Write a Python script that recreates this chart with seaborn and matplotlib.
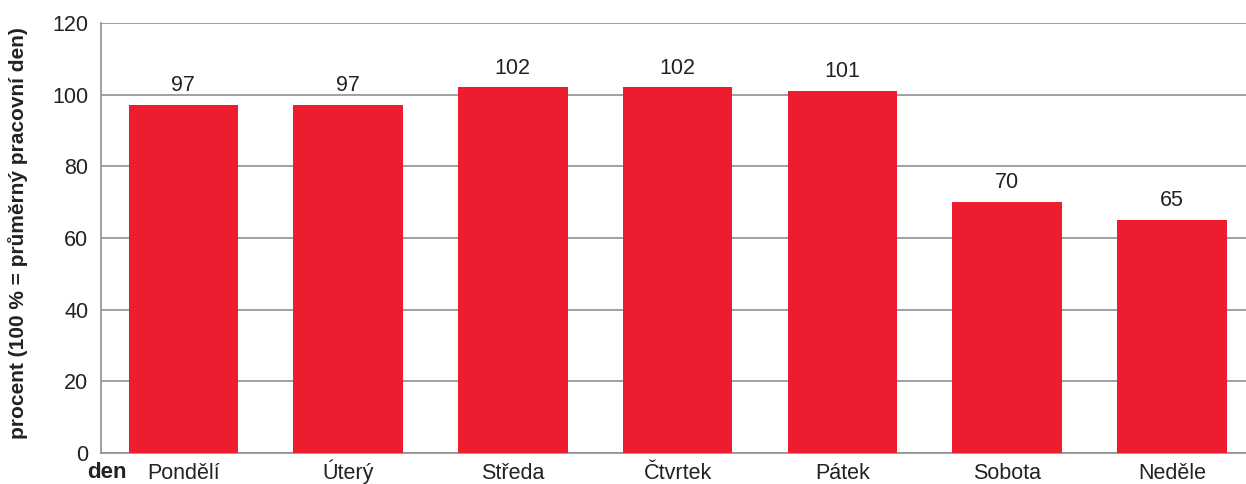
import matplotlib
matplotlib.use("Agg")
import matplotlib.pyplot as plt
import seaborn as sns
import pandas as pd

days = ["Pondělí", "Úterý", "Středa", "Čtvrtek", "Pátek", "Sobota", "Neděle"]
values = [97, 97, 102, 102, 101, 70, 65]
yticks = [0, 20, 40, 60, 80, 100, 120]

sns.set_style("white")
plt.rcParams['font.family'] = ['Liberation Sans', 'DejaVu Sans']

df = pd.DataFrame({"den": days, "hodnota": values})

fig = plt.figure(figsize=(12.46, 4.84), dpi=100)
ax = fig.add_axes([0.081, 0.064, 0.919, 0.8885])

sns.barplot(data=df, x="den", y="hodnota", color="#ED1C2E", width=0.665,
            saturation=1, ax=ax, zorder=3)
for p in ax.patches:
    p.set_edgecolor("none")

ax.set_ylim(0, 120)
ax.set_xlim(-0.5, 6.45)
ax.set_yticks(yticks)
ax.set_yticklabels([str(t) for t in yticks], fontsize=15.5, color="#222222")
ax.tick_params(axis='x', labelsize=15.5, length=0, pad=19, labelcolor="#222222")
ax.tick_params(axis='y', length=0, pad=9)
for lab in ax.get_xticklabels():
    lab.set_verticalalignment("baseline")
ax.yaxis.grid(True, color="#8C9191", linewidth=1.2, zorder=0)
ax.set_axisbelow(True)
for s in ["top", "right"]:
    ax.spines[s].set_visible(False)
ax.spines["left"].set_color("#8C9191")
ax.spines["left"].set_linewidth(1.2)
ax.spines["bottom"].set_color("#8C9191")
ax.spines["bottom"].set_linewidth(1.2)

for i, v in enumerate(values):
    ax.text(i, v + 2.5, str(v), ha="center", va="bottom", fontsize=15.5, color="#222222")

ax.set_xlabel("")
ax.set_ylabel("")
fig.text(18 / 1246, 1 - 233 / 484, "procent (100 % = průměrný pracovní den)", fontsize=15,
         fontweight="bold", rotation=90, ha="center", va="center", color="#222222")
fig.text(127 / 1246, 1 - 473 / 484, "den", fontsize=16, fontweight="bold",
         ha="right", va="center", color="#222222")

fig.savefig("out.png", dpi=100)
